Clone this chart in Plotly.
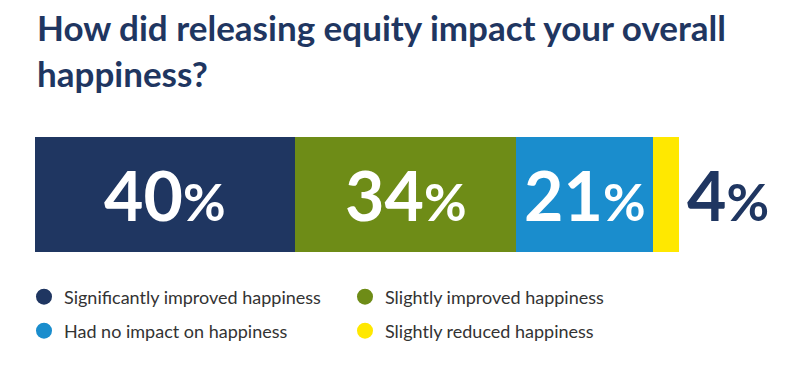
import plotly.graph_objects as go

categories = ["Significantly improved happiness", "Slightly improved happiness",
              "Had no impact on happiness", "Slightly reduced happiness"]
values = [40, 34, 21, 4]
colors = ["#1f3661", "#6e8c17", "#1a8dcd", "#ffe800"]
label_colors = ["#ffffff", "#ffffff", "#ffffff", "#1f3661"]
title_text = "How did releasing equity impact your overall<br>happiness?"

W, H = 794, 372
FONT = "Lato"
NAVY = "#1f3661"
ML, MT, MR, MB = 35, 137, 115, 120
PH = H - MT - MB

fig = go.Figure()

for cat, v, c in zip(categories, values, colors):
    fig.add_trace(go.Bar(
        x=[v], y=["q"], orientation="h", name=cat,
        marker=dict(color=c, line=dict(width=0)),
        showlegend=False, hoverinfo="name+x",
    ))

# legend entries (circle markers), one legend per entry, in a 2x2 grid
legend_names = ["legend", "legend2", "legend3", "legend4"]
for cat, c, lg in zip(categories, colors, legend_names):
    fig.add_trace(go.Scatter(
        x=[None], y=[None], mode="markers", name=cat,
        marker=dict(color=c, size=16, symbol="circle"),
        legend=lg,
    ))

total = sum(values)
annotations = []
cum = 0
for i, v in enumerate(values):
    label = f"<b>{v}<span style='font-size:52px'>%</span></b>"
    if i < len(values) - 1:
        annotations.append(dict(
            x=cum + v / 2, y=0, xref="x", yref="y", text=label, showarrow=False,
            xanchor="center", yanchor="middle",
            font=dict(family=FONT, size=68, color=label_colors[i]),
        ))
    else:
        annotations.append(dict(
            x=cum + v, y=0, xref="x", yref="y", text=label, showarrow=False,
            xanchor="left", yanchor="middle", xshift=6,
            font=dict(family=FONT, size=68, color=label_colors[i]),
        ))
    cum += v

# title as annotation anchored to the plot's left edge
annotations.append(dict(
    text=title_text, xref="paper", yref="paper", x=0, y=1 + (MT - 4) / PH,
    xanchor="left", yanchor="top", align="left", showarrow=False,
    font=dict(family=FONT, size=35, color=NAVY, weight=700),
))

leg_common = dict(
    orientation="h", xref="container", yref="container",
    xanchor="left", yanchor="middle",
    font=dict(family=FONT, size=18, color="#333333"),
    bgcolor="rgba(0,0,0,0)", itemclick=False, itemdoubleclick=False,
)
col_x = [24, 345]
row_y = [297, 331]
layout_legends = {}
for k, lg in enumerate(legend_names):
    r, c = divmod(k, 2)
    layout_legends[lg] = dict(x=col_x[c] / W, y=1 - row_y[r] / H, **leg_common)

fig.update_layout(
    width=W, height=H,
    margin=dict(l=ML, r=MR, t=MT, b=MB, pad=0),
    paper_bgcolor="white", plot_bgcolor="white",
    barmode="stack", bargap=0,
    xaxis=dict(range=[0, total], visible=False, fixedrange=True),
    yaxis=dict(range=[-0.5, 0.5], visible=False, fixedrange=True),
    annotations=annotations,
    showlegend=True,
    **layout_legends,
)

fig.write_html("out.html", config={"displayModeBar": False},
               post_script="document.body.style.margin='0';")
